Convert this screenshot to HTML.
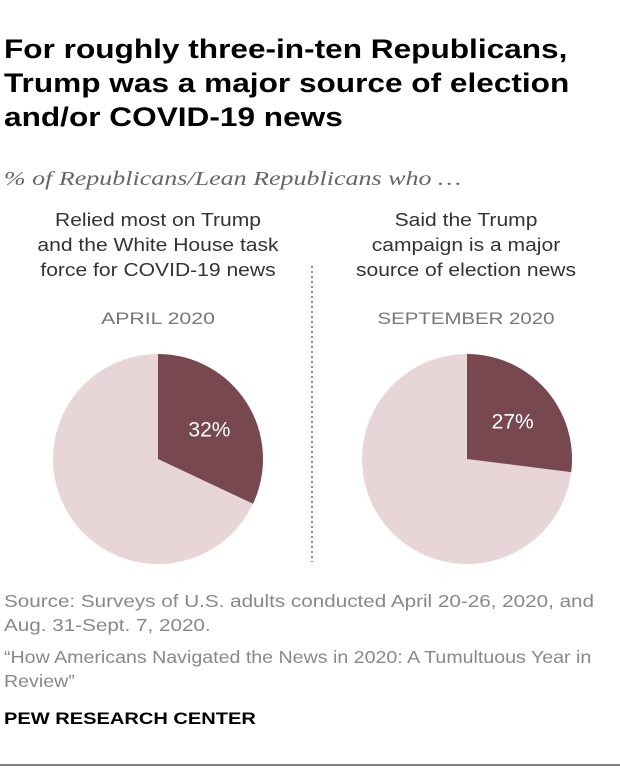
<!DOCTYPE html>
<html><head><meta charset="utf-8"><style>
body{margin:0;background:#fff;font-family:"Liberation Sans",sans-serif;}
#c{position:relative;width:620px;height:772px;overflow:hidden;}
.t{position:absolute;white-space:nowrap;}
</style></head><body>
<div id="c">
<div class="t" style="left:4px;top:32px;font-size:27px;font-weight:bold;line-height:34px;color:#000;transform:scaleX(1.17);transform-origin:0 0;">For roughly three-in-ten Republicans,<br>Trump was a major source of election<br>and/or COVID-19 news</div>
<div class="t" style="left:4px;top:168px;font-family:'Liberation Serif',serif;font-style:italic;font-size:20px;color:#666;transform:scaleX(1.3);transform-origin:0 0;">% of Republicans/Lean Republicans who …</div>
<div class="t" style="left:12px;top:208px;width:292px;text-align:center;font-size:18px;line-height:25px;color:#333;transform:scaleX(1.17);transform-origin:146px 0;">Relied most on Trump<br>and the White House task<br>force for COVID-19 news</div>
<div class="t" style="left:320px;top:208px;width:292px;text-align:center;font-size:18px;line-height:25px;color:#333;transform:scaleX(1.17);transform-origin:146px 0;">Said the Trump<br>campaign is a major<br>source of election news</div>
<div class="t" style="left:12px;top:309px;width:292px;text-align:center;font-size:17px;color:#777;transform:scaleX(1.25);transform-origin:146px 0;">APRIL 2020</div>
<div class="t" style="left:320px;top:309px;width:292px;text-align:center;font-size:17px;color:#777;transform:scaleX(1.2);transform-origin:146px 0;">SEPTEMBER 2020</div>
<svg id="pies" class="t" style="left:0;top:0" width="620" height="772">
<line x1="312" y1="266" x2="312" y2="562" stroke="#888" stroke-width="2" stroke-dasharray="2,3"/>
<line x1="0" y1="765" x2="620" y2="765" stroke="#000" stroke-width="1"/>
</svg>
<div class="t" style="left:4px;top:589px;font-size:17.5px;line-height:24px;color:#888;transform:scaleX(1.18);transform-origin:0 0;">Source: Surveys of U.S. adults conducted April 20-26, 2020, and<br>Aug. 31-Sept. 7, 2020.</div>
<div class="t" style="left:4px;top:645px;font-size:17.5px;line-height:24px;color:#888;transform:scaleX(1.12);transform-origin:0 0;">“How Americans Navigated the News in 2020: A Tumultuous Year in<br>Review”</div>
<div class="t" style="left:4px;top:709px;font-size:17px;font-weight:bold;color:#000;transform:scaleX(1.18);transform-origin:0 0;">PEW RESEARCH CENTER</div>
</div>
<script>
const labels=["32%","27%"];
const values=[32,27];
const centersX=[158,467];
const cy=459, r=105;
const svg=document.getElementById('pies');
const NS='http://www.w3.org/2000/svg';
values.forEach((v,i)=>{
  const cx=centersX[i];
  const bg=document.createElementNS(NS,'circle');
  bg.setAttribute('cx',cx);bg.setAttribute('cy',cy);bg.setAttribute('r',r);bg.setAttribute('fill','#e8d5d7');
  
  
  svg.appendChild(bg);
  const a=v/100*2*Math.PI;
  const x=cx+r*Math.sin(a), y=cy-r*Math.cos(a);
  const p=document.createElementNS(NS,'path');
  p.setAttribute('d',`M${cx},${cy} L${cx},${cy-r} A${r},${r} 0 ${v>50?1:0} 1 ${x},${y} Z`);
  p.setAttribute('fill','#774850');
  
  
  svg.appendChild(p);
  const m=a/2, lr=r*0.58;
  const t=document.createElementNS(NS,'text');
  t.setAttribute('x',cx+lr*Math.sin(m));t.setAttribute('y',cy-lr*Math.cos(m)+10);
  t.setAttribute('text-anchor','middle');t.setAttribute('fill','#fff');t.setAttribute('font-size','21');
  t.setAttribute('font-family','Liberation Sans, sans-serif');
  t.textContent=labels[i];
  
  
  svg.appendChild(t);
});
</script>
</body></html>
